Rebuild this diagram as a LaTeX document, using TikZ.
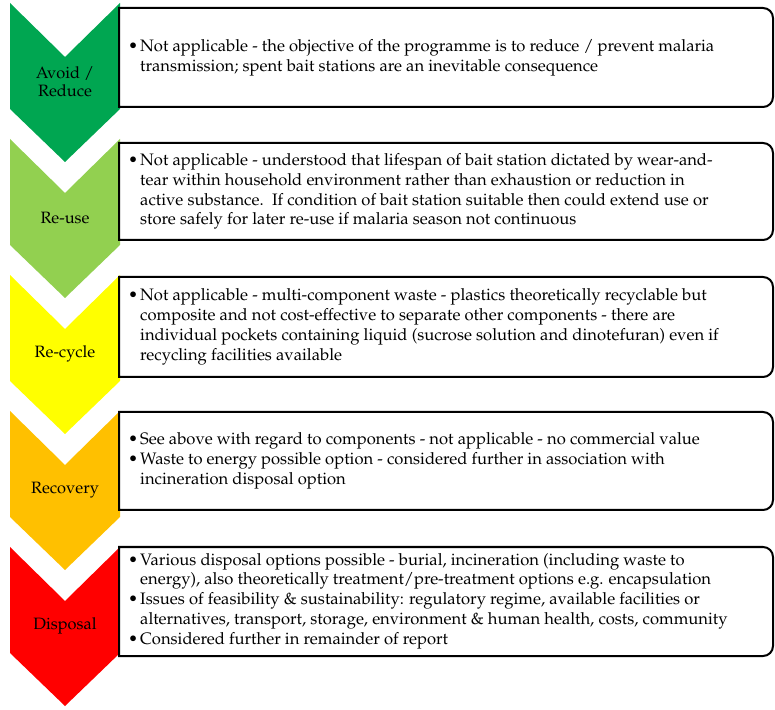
\documentclass[tikz,border=0pt]{standalone}
\usepackage[T1]{fontenc}
\usepackage{mathpazo}
\usepackage{tikz}
\usetikzlibrary{positioning}

\definecolor{avoidgreen}{HTML}{00A651}
\definecolor{reusegreen}{HTML}{92D050}
\definecolor{recycleyellow}{HTML}{FFFF00}
\definecolor{recoveryorange}{HTML}{FFC000}
\definecolor{disposalred}{HTML}{FF0000}

\tikzset{
  stage/.style={align=center, inner sep=0pt, font={\fontsize{16.4}{18}\selectfont}},
  note/.style={anchor=west, align=left, inner sep=0pt, font={\fontsize{16.6}{19.8}\selectfont}},
  frame/.style={draw=black, line width=2pt, fill=white},
}

% chevron from its top edge, filled with a colour
\newcommand{\chevron}[2]{%
  \fill[#2] (10,#1) -- ++(55,-54) -- ++(55,54) -- ++(0,-106) -- ++(-55,-53) -- ++(-55,53) -- cycle;}
% text panel, square on the left and rounded on the right
\newcommand{\panel}[2]{%
  \draw[frame] (119,#1) -- (763,#1) arc[start angle=90, end angle=0, radius=10]
    -- (773,#2+10) arc[start angle=0, end angle=-90, radius=10] -- (119,#2) -- cycle;}
\newcommand{\itm}{\llap{\textbullet\hspace{2pt}}}

\begin{document}
\begin{tikzpicture}[x=1pt, y=1pt]
  \useasboundingbox (0,0) rectangle (775,709);

  % the five stages
  \foreach \yy/\col/\nm/\lab in {706/avoidgreen/avoid/{Avoid /\\Reduce},
      570/reusegreen/reuse/Re-use, 434/recycleyellow/recycle/Re-cycle,
      298/recoveryorange/recovery/Recovery, 162/disposalred/disposal/Disposal}{
    \chevron{\yy}{\col}
    \node[stage] (\nm) at (65,\yy-79) {\lab};
  }

  % panels
  \panel{701}{602}
  \panel{566}{469}
  \panel{432}{332}
  \panel{297}{199}
  \panel{162}{53}

  \node[note] (avoidtxt) at (140,651.5) {\itm Not applicable - the objective of the programme is to reduce / prevent malaria\\
    transmission; spent bait stations are an inevitable consequence};
  \node[note] (reusetxt) at (140,517.5) {\itm Not applicable - understood that lifespan of bait station dictated by wear-and-\\
    tear within household environment rather than exhaustion or reduction in\\
    active substance.\ \ If condition of bait station suitable then could extend use or\\
    store safely for later re-use if malaria season not continuous};
  \node[note] (recycletxt) at (140,382) {\itm Not applicable - multi-component waste - plastics theoretically recyclable but\\
    composite and not cost-effective to separate other components - there are\\
    individual pockets containing liquid (sucrose solution and dinotefuran) even if\\
    recycling facilities available};
  \node[note] (recoverytxt) at (140,248) {\itm See above with regard to components - not applicable - no commercial value\\
    \itm Waste to energy possible option - considered further in association with\\
    incineration disposal option};
  \node[note] (disposaltxt) at (140,108) {\itm Various disposal options possible - burial, incineration (including waste to\\
    energy), also theoretically treatment/pre-treatment options e.g. encapsulation\\
    \itm Issues of feasibility \& sustainability: regulatory regime, available facilities or\\
    alternatives, transport, storage, environment \& human health, costs, community\\
    \itm Considered further in remainder of report};
\end{tikzpicture}
\end{document}
